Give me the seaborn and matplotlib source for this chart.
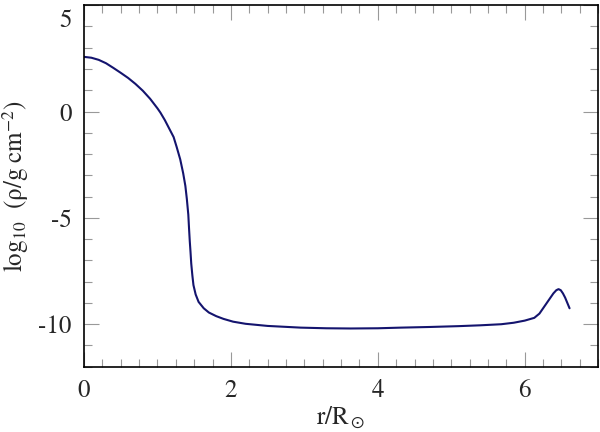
import numpy as np
import pandas as pd
import matplotlib
matplotlib.use("Agg")
import matplotlib.pyplot as plt
import matplotlib.transforms as mtransforms
import seaborn as sns
from matplotlib.ticker import MultipleLocator

# density profile
r = [0.00, 0.10, 0.20, 0.30, 0.40, 0.50, 0.60, 0.70, 0.80, 0.90,
     1.00, 1.04, 1.10, 1.16, 1.22, 1.26, 1.31, 1.35, 1.38, 1.40,
     1.42, 1.43, 1.44, 1.45, 1.46, 1.475, 1.49, 1.52, 1.56, 1.63,
     1.70, 1.80, 1.90, 2.03, 2.20, 2.50, 2.95, 3.30, 3.63, 4.00,
     4.31, 4.70, 5.10, 5.40, 5.68, 5.85, 6.00, 6.13, 6.20, 6.27,
     6.33, 6.39, 6.43, 6.46, 6.49, 6.52, 6.55, 6.58, 6.61]
log_rho = [2.57, 2.53, 2.43, 2.27, 2.05, 1.82, 1.58, 1.30, 0.98, 0.60,
           0.15, -0.05, -0.40, -0.80, -1.20, -1.65, -2.25, -2.90, -3.50, -4.11,
           -4.85, -5.50, -6.10, -6.60, -7.15, -7.70, -8.16, -8.60, -8.95, -9.25,
           -9.45, -9.62, -9.75, -9.88, -9.98, -10.08, -10.16, -10.19, -10.20, -10.19,
           -10.16, -10.13, -10.09, -10.05, -10.00, -9.93, -9.83, -9.70, -9.50, -9.15,
           -8.85, -8.55, -8.40, -8.35, -8.40, -8.55, -8.75, -9.00, -9.25]

df = pd.DataFrame({"r": r, "log_rho": log_rho})

sns.set_style("ticks")
plt.rcParams["font.family"] = ["STIXGeneral", "DejaVu Serif"]
plt.rcParams["mathtext.fontset"] = "stix"
plt.rcParams["axes.unicode_minus"] = False

fig = plt.figure(figsize=(6, 4.32), dpi=100)
ax = fig.add_axes([0.14, 0.151, 0.857, 0.837])

sns.lineplot(data=df, x="r", y="log_rho", ax=ax, color="#14146e",
             linewidth=1.5, sort=False, estimator=None)

ax.set_xlim(0, 7)
ax.set_ylim(-12, 5)
ax.xaxis.set_major_locator(MultipleLocator(2))
ax.xaxis.set_minor_locator(MultipleLocator(0.25))
ax.set_yticks([-10, -5, 0, 5])
ax.yaxis.set_minor_locator(MultipleLocator(1))

ax.tick_params(which="both", direction="in", top=True, right=True,
               color="#999999", labelsize=18, pad=9)
ax.tick_params(which="major", length=11, width=0.8)
ax.tick_params(which="minor", length=6, width=0.8)
for s in ax.spines.values():
    s.set_linewidth(1.2)
    s.set_color("black")

ax.set_xlabel(r"r/R$_\odot$", fontsize=18, labelpad=1)
ax.set_ylabel(r"log$_{10}$  (ρ/g cm$^{\mathrm{-2}}$)", fontsize=18, labelpad=5)

# keep the top tick label inside the figure
fig.canvas.draw()
for lab in ax.get_yticklabels():
    if lab.get_text() == "5":
        lab.set_transform(lab.get_transform() +
                          mtransforms.ScaledTranslation(0, -9 / 72, fig.dpi_scale_trans))

fig.savefig("out.png", dpi=100)
